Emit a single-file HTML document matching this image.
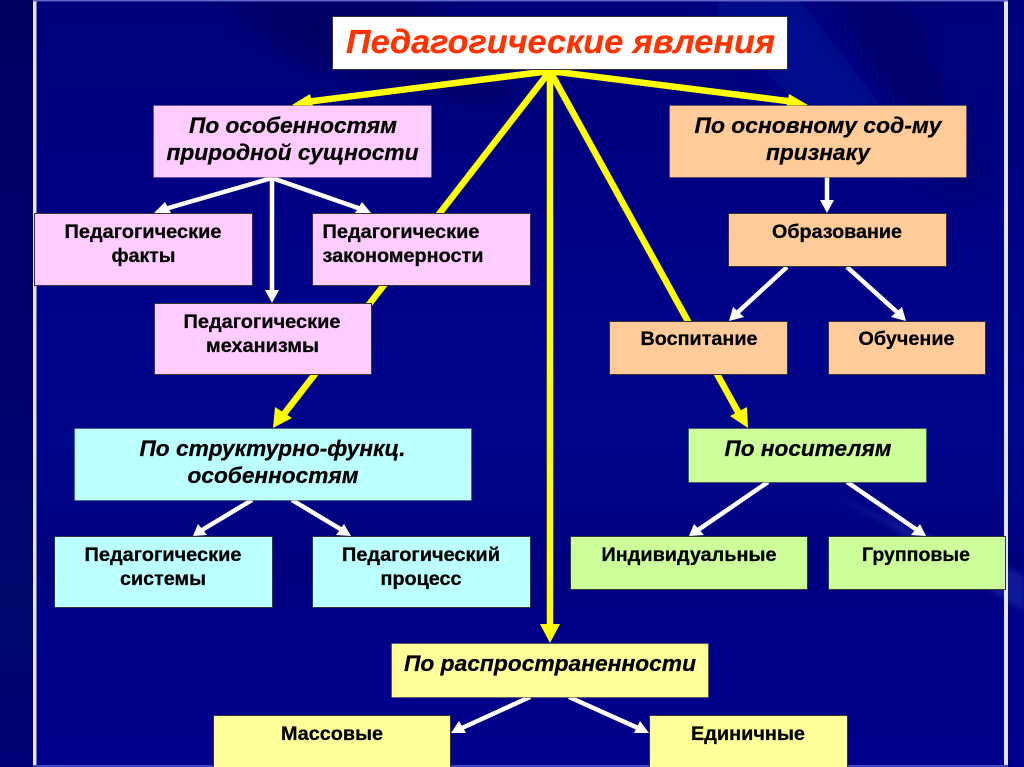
<!DOCTYPE html>
<html lang="ru"><head><meta charset="utf-8"><title>Педагогические явления</title>
<style>
html,body{margin:0;padding:0;background:#000080;width:1024px;height:767px;overflow:hidden}
svg{display:block}
text{font-family:"Liberation Sans",sans-serif;font-weight:bold;fill:#000;text-anchor:middle;stroke:#000;stroke-width:.25px}
.h{font-style:italic;font-size:22.5px}
.n{font-size:19px}
.b{stroke:#333;stroke-width:1}
</style></head><body>
<svg xmlns="http://www.w3.org/2000/svg" width="1024" height="767" viewBox="0 0 1024 767">
<defs>
<linearGradient id="bg" x1="0" y1="0" x2="0" y2="1">
<stop offset="0" stop-color="#000078"/><stop offset=".25" stop-color="#000084"/><stop offset=".55" stop-color="#00068c"/><stop offset=".66" stop-color="#000484"/><stop offset=".74" stop-color="#00007e"/><stop offset=".8" stop-color="#000088"/><stop offset="1" stop-color="#00008c"/>
</linearGradient>
<linearGradient id="ls" x1="0" y1="0" x2="0" y2="1">
<stop offset="0" stop-color="#000062"/><stop offset=".5" stop-color="#000070"/><stop offset=".78" stop-color="#00086e"/><stop offset="1" stop-color="#000076"/>
</linearGradient>
<filter id="bl" x="-30%" y="-30%" width="160%" height="160%"><feGaussianBlur stdDeviation="14"/></filter>
<filter id="bl2" x="-30%" y="-30%" width="160%" height="160%"><feGaussianBlur stdDeviation="3"/></filter>
</defs>
<rect width="1024" height="767" fill="url(#bg)"/>
<g filter="url(#bl)">
<polygon points="230,0 420,0 520,110 300,60" fill="#000064"/>
<polygon points="840,0 900,0 990,190 940,190" fill="#00006c"/>
<polygon points="700,0 800,0 900,130 820,130" fill="#000c90"/>
</g>
<rect x="0" y="0" width="33" height="767" fill="url(#ls)"/>
<polygon points="830,495 1024,575 1024,612 880,520" fill="#2a3cb8" opacity=".4" filter="url(#bl2)"/>
<rect x="33" y="0" width="3.5" height="767" fill="#e4e4ff"/>
<rect x="1004" y="0" width="4" height="767" fill="#e4e4ff"/>
<rect x="33" y="0" width="975" height="1.5" fill="#5c62c8"/>
<rect x="33" y="765" width="975" height="2" fill="#3c44c0"/>

<g stroke="#ffff00" stroke-width="6.5" fill="none">
<line x1="550" y1="71" x2="306" y2="102"/>
<line x1="550" y1="71" x2="795" y2="102"/>
<line x1="550" y1="71" x2="550" y2="625"/>
<line x1="550" y1="71" x2="284" y2="414"/>
<line x1="550" y1="71" x2="738" y2="412"/>
</g>
<g fill="#ffff00">
<polygon points="292,105 310,94 314,110"/>
<polygon points="808,105 789,94 786,110"/>
<polygon points="550,643 540,624 560,624"/>
<polygon points="273,428 275,407 292,418"/>
<polygon points="748,428 730,416 747,407"/>
</g>
<g stroke="#fff" stroke-width="4.5" fill="none">
<line x1="272" y1="178" x2="165" y2="209"/>
<line x1="272" y1="178" x2="272" y2="292"/>
<line x1="272" y1="178" x2="361" y2="209"/>
<line x1="827" y1="177" x2="827" y2="203"/>
<line x1="787" y1="267" x2="737" y2="313"/>
<line x1="847" y1="267" x2="898" y2="313"/>
<line x1="252" y1="500" x2="202" y2="530"/>
<line x1="292" y1="500" x2="342" y2="530"/>
<line x1="768" y1="482" x2="698" y2="530"/>
<line x1="847" y1="482" x2="917" y2="530"/>
<line x1="530" y1="697" x2="462" y2="728"/>
<line x1="569" y1="697" x2="638" y2="728"/>
</g>
<g fill="#fff">
<polygon points="154,213 165,202 171,213"/>
<polygon points="272,303 265,290 279,290"/>
<polygon points="371,213 355,213 362,202"/>
<polygon points="827,213 820,200 834,200"/>
<polygon points="729,321 733,307 744,317"/>
<polygon points="906,321 891,317 902,307"/>
<polygon points="193,536 198,524 207,535"/>
<polygon points="351,536 336,535 344,524"/>
<polygon points="689,536 694,524 704,535"/>
<polygon points="926,536 911,535 920,524"/>
<polygon points="451,733 459,721 466,733"/>
<polygon points="649,733 634,733 640,721"/>
</g>

<rect class="b" x="332.5" y="16.5" width="455" height="53" fill="#fff"/>
<rect class="b" x="153.5" y="105.5" width="278" height="72" fill="#ffccff" stroke-opacity=".3"/>
<rect class="b" x="34.5" y="213.5" width="218" height="72" fill="#ffccff"/>
<rect class="b" x="312.5" y="213.5" width="218" height="72" fill="#ffccff"/>
<rect class="b" x="154.5" y="303.5" width="217" height="71" fill="#ffccff"/>
<rect class="b" x="74.5" y="428.5" width="397" height="72" fill="#bbffff" stroke-opacity=".4"/>
<rect class="b" x="54.5" y="536.5" width="218" height="71" fill="#bbffff"/>
<rect class="b" x="312.5" y="536.5" width="218" height="71" fill="#bbffff"/>
<rect class="b" x="391.5" y="643.5" width="317" height="54" fill="#ffff99" stroke-opacity=".5"/>
<rect class="b" x="213.5" y="715.5" width="237" height="60" fill="#ffff99"/>
<rect class="b" x="649.5" y="715.5" width="198" height="60" fill="#ffff99"/>
<rect class="b" x="669.5" y="105.5" width="297" height="72" fill="#ffcc99" stroke-opacity=".4"/>
<rect class="b" x="728.5" y="213.5" width="218" height="53" fill="#ffcc99"/>
<rect class="b" x="609.5" y="321.5" width="178" height="53" fill="#ffcc99"/>
<rect class="b" x="828.5" y="321.5" width="157" height="53" fill="#ffcc99"/>
<rect class="b" x="688.5" y="428.5" width="238" height="54" fill="#ccff99" stroke-opacity=".5"/>
<rect class="b" x="570.5" y="536.5" width="237" height="53" fill="#ccff99"/>
<rect class="b" x="828.5" y="536.5" width="177" height="53" fill="#ccff99"/>

<text x="560.5" y="53" style="font-style:italic;font-size:33px;fill:#ff3300;stroke:#ff3300" textLength="429" lengthAdjust="spacingAndGlyphs">Педагогические явления</text>
<text class="h" x="293" y="133" textLength="208" lengthAdjust="spacingAndGlyphs">По особенностям</text>
<text class="h" x="292.5" y="160" textLength="252" lengthAdjust="spacingAndGlyphs">природной сущности</text>
<text class="n" x="143" y="238" textLength="157" lengthAdjust="spacingAndGlyphs">Педагогические</text>
<text class="n" x="143.5" y="262" textLength="64" lengthAdjust="spacingAndGlyphs">факты</text>
<text class="n" x="401" y="238" textLength="157" lengthAdjust="spacingAndGlyphs">Педагогические</text>
<text class="n" x="403" y="262" textLength="161" lengthAdjust="spacingAndGlyphs">закономерности</text>
<text class="n" x="262" y="328" textLength="157" lengthAdjust="spacingAndGlyphs">Педагогические</text>
<text class="n" x="262.5" y="352" textLength="113" lengthAdjust="spacingAndGlyphs">механизмы</text>
<text class="h" x="272.5" y="456" textLength="266" lengthAdjust="spacingAndGlyphs">По структурно-функц.</text>
<text class="h" x="273" y="483" textLength="171" lengthAdjust="spacingAndGlyphs">особенностям</text>
<text class="n" x="163" y="561" textLength="157" lengthAdjust="spacingAndGlyphs">Педагогические</text>
<text class="n" x="163" y="585" textLength="86" lengthAdjust="spacingAndGlyphs">системы</text>
<text class="n" x="421" y="561" textLength="158" lengthAdjust="spacingAndGlyphs">Педагогический</text>
<text class="n" x="421" y="585" textLength="81" lengthAdjust="spacingAndGlyphs">процесс</text>
<text class="h" x="550" y="671" textLength="292" lengthAdjust="spacingAndGlyphs">По распространенности</text>
<text class="n" x="332" y="740" textLength="102" lengthAdjust="spacingAndGlyphs">Массовые</text>
<text class="n" x="748" y="740" textLength="114" lengthAdjust="spacingAndGlyphs">Единичные</text>
<text class="h" x="818" y="133" textLength="247" lengthAdjust="spacingAndGlyphs">По основному сод-му</text>
<text class="h" x="818" y="160" textLength="104" lengthAdjust="spacingAndGlyphs">признаку</text>
<text class="n" x="837" y="238" textLength="130" lengthAdjust="spacingAndGlyphs">Образование</text>
<text class="n" x="699" y="345" textLength="117" lengthAdjust="spacingAndGlyphs">Воспитание</text>
<text class="n" x="906.5" y="345" textLength="96" lengthAdjust="spacingAndGlyphs">Обучение</text>
<text class="h" x="808" y="456" textLength="167" lengthAdjust="spacingAndGlyphs">По носителям</text>
<text class="n" x="689" y="561" textLength="175" lengthAdjust="spacingAndGlyphs">Индивидуальные</text>
<text class="n" x="916" y="561" textLength="108" lengthAdjust="spacingAndGlyphs">Групповые</text>
</svg>
</body></html>
